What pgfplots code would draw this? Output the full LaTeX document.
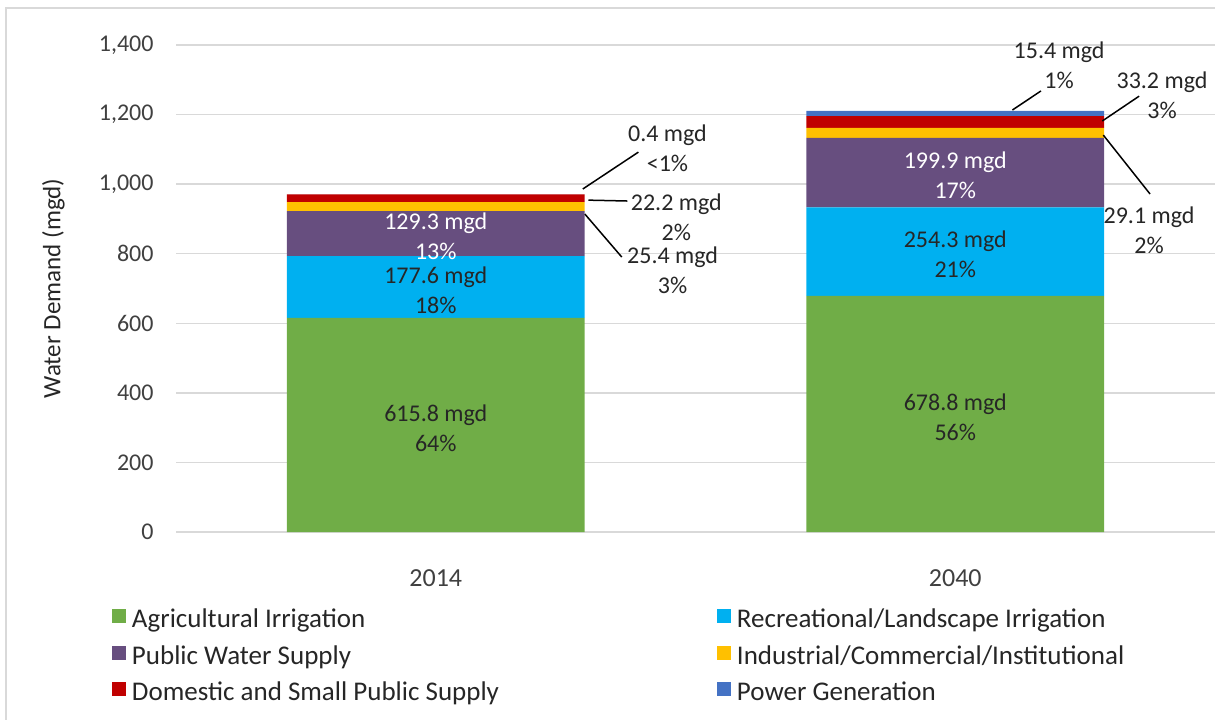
\documentclass[border=0pt]{standalone}
\usepackage{pgfplots}
\pgfplotsset{compat=1.18}
\usepackage{fontspec}
\setmainfont{Carlito}
\definecolor{agri}{HTML}{70AD47}
\definecolor{recr}{HTML}{00B0F0}
\definecolor{publ}{HTML}{674E7F}
\definecolor{indu}{HTML}{FFC000}
\definecolor{dome}{HTML}{C00000}
\definecolor{powr}{HTML}{4472C4}
\definecolor{gridc}{HTML}{D9D9D9}
\definecolor{framec}{HTML}{D9D9D9}
\definecolor{txtc}{HTML}{404040}
\definecolor{labc}{HTML}{262626}
\begin{document}
\begin{tikzpicture}[font=\fontsize{12}{14}\selectfont,
  lab/.style={align=center, font=\fontsize{12}{15}\selectfont, text=labc},
  inlab/.style={lab, yshift=-1.5pt},
  lead/.style={draw=black, line width=0.75pt}]
\useasboundingbox (0,0) rectangle (607.5pt,359.5pt);
\draw[framec, line width=1pt] (3pt,-5pt) -- (3pt,355.5pt) -- (615pt,355.5pt);
\begin{axis}[
  at={(88pt,93.5pt)}, anchor=south west,
  scale only axis, width=519.5pt, height=243.5pt,
  clip=false,
  ybar stacked, bar width=0.573,
  xmin=-0.5, xmax=1.5, ymin=0, ymax=1400,
  xtick={0,1}, xticklabels={2014,2040},
  ytick={0,200,...,1400},
  ymajorgrids, grid style={color=gridc, line width=0.75pt},
  axis line style={draw=none},
  major tick length=0pt,
  /pgf/number format/1000 sep={,},
  /pgf/number format/assume math mode=true,
  tick label style={text=txtc, font=\fontsize{12}{14}\selectfont},
  xticklabel style={yshift=-15.5pt, font=\fontsize{13}{14}\selectfont},
  yticklabel style={xshift=-7.7pt},
  ylabel={Water Demand (mgd)},
  every axis y label/.style={at={(axis description cs:-0.118,0.5)}, rotate=90, anchor=center, text=labc, font=\fontsize{12.5}{14}\selectfont},
  legend columns=2,
  legend cell align=left,
  legend image code/.code={\fill[#1] (0pt,-0.8pt) rectangle (7pt,6.2pt);},
  legend style={at={(axis description cs:-0.0616,-0.159)}, anchor=north west,
    draw=none, fill=none, inner sep=0pt, outer sep=0pt,
    font=\fontsize{13.5}{14}\selectfont, text=labc,
    nodes={inner sep=0pt, text height=8.5pt, text depth=2.5pt},
    row sep=6.5pt,
    /tikz/every odd column/.append style={column sep=3pt},
    /tikz/every even column/.append style={column sep=7.5pt}},
]
\addplot[fill=agri, draw=none] coordinates {(0,615.8) (1,678.8)};
\addlegendentry{\makebox[285pt][l]{Agricultural Irrigation}}
\addplot[fill=recr, draw=none] coordinates {(0,177.6) (1,254.3)};
\addlegendentry{Recreational/Landscape Irrigation}
\addplot[fill=publ, draw=none] coordinates {(0,129.3) (1,199.9)};
\addlegendentry{\makebox[285pt][l]{Public Water Supply}}
\addplot[fill=indu, draw=none] coordinates {(0,25.4) (1,29.1)};
\addlegendentry{Industrial/Commercial/Institutional}
\addplot[fill=dome, draw=none] coordinates {(0,22.2) (1,33.2)};
\addlegendentry{\makebox[285pt][l]{Domestic and Small Public Supply}}
\addplot[fill=powr, draw=none] coordinates {(0,0.4) (1,15.4)};
\addlegendentry{Power Generation}

\coordinate (i1) at (axis cs:0,307.9);
\coordinate (i2) at (axis cs:0,704.6);
\coordinate (i3) at (axis cs:0,858.05);
\coordinate (i4) at (axis cs:1,339.4);
\coordinate (i5) at (axis cs:1,805.95);
\coordinate (i6) at (axis cs:1,1033.05);
\coordinate (a1) at (axis cs:0.283,986);   \coordinate (b1) at (axis cs:0.390,1092);  \coordinate (t1) at (axis cs:0.446,1104);
\coordinate (a2) at (axis cs:0.294,954);   \coordinate (b2) at (axis cs:0.369,951.5); \coordinate (t2) at (axis cs:0.463,905.5);
\coordinate (a3) at (axis cs:0.287,914);   \coordinate (b3) at (axis cs:0.358,790.5); \coordinate (t3) at (axis cs:0.456,753);
\coordinate (a4) at (axis cs:1.110,1213);  \coordinate (b4) at (axis cs:1.165,1268);  \coordinate (t4) at (axis cs:1.200,1342.5);
\coordinate (a5) at (axis cs:1.283,1181.5);\coordinate (b5) at (axis cs:1.354,1253);  \coordinate (t5) at (axis cs:1.398,1256);
\coordinate (a6) at (axis cs:1.285,1141);  \coordinate (b6) at (axis cs:1.375,971.6); \coordinate (t6) at (axis cs:1.373,868);
\end{axis}
% inside labels
\node[inlab] at (i1) {615.8 mgd\\64\%};
\node[inlab] at (i2) {177.6 mgd\\18\%};
\node[inlab, text=white] at (i3) {129.3 mgd\\13\%};
\node[inlab] at (i4) {678.8 mgd\\56\%};
\node[inlab] at (i5) {254.3 mgd\\21\%};
\node[inlab, text=white] at (i6) {199.9 mgd\\17\%};
% callouts
\draw[lead] (a1) -- (b1); \node[lab] at (t1) {0.4 mgd\\<1\%};
\draw[lead] (a2) -- (b2); \node[lab] at (t2) {22.2 mgd\\2\%};
\draw[lead] (a3) -- (b3); \node[lab] at (t3) {25.4 mgd\\3\%};
\draw[lead] (a4) -- (b4); \node[lab] at (t4) {15.4 mgd\\1\%};
\draw[lead] (a5) -- (b5); \node[lab] at (t5) {33.2 mgd\\3\%};
\draw[lead] (a6) -- (b6); \node[lab] at (t6) {29.1 mgd\\2\%};
\end{tikzpicture}
\end{document}
